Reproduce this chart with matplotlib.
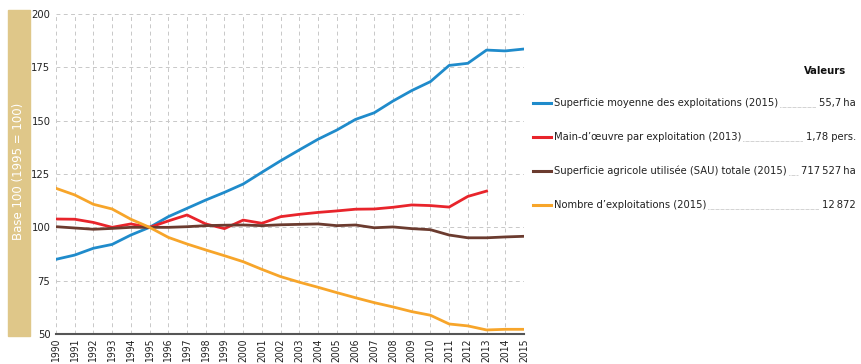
import matplotlib.pyplot as plt
import numpy as np
from matplotlib.patches import Rectangle

years = list(range(1990, 2016))

# indices, base 100 in 1995
superficie_moyenne = [85.0, 87.0, 90.2, 92.0, 96.4, 100.0, 105.0, 108.9, 112.8, 116.4,
                      120.3, 125.8, 131.2, 136.3, 141.3, 145.6, 150.6, 153.7, 159.2, 164.1,
                      168.3, 175.9, 176.9, 183.1, 182.7, 183.6]
main_oeuvre = [103.9, 103.8, 102.3, 100.0, 101.6, 100.0, 103.0, 105.8, 101.6, 99.4,
               103.4, 101.9, 105.0, 106.1, 107.0, 107.7, 108.5, 108.6, 109.4, 110.5,
               110.2, 109.5, 114.5, 117.0]
sau_totale = [100.3, 99.7, 99.1, 99.5, 100.0, 100.0, 100.0, 100.3, 100.8, 101.0,
              101.1, 100.8, 101.2, 101.4, 101.6, 100.8, 101.1, 99.8, 100.2, 99.4,
              98.9, 96.4, 95.1, 95.1, 95.5, 95.8]
nb_exploitations = [118.3, 115.2, 110.8, 108.6, 103.8, 100.0, 95.3, 92.2, 89.4, 86.7,
                    83.9, 80.3, 76.9, 74.3, 71.9, 69.4, 67.0, 64.7, 62.7, 60.5,
                    58.8, 54.7, 53.8, 51.9, 52.2, 52.2]

labels = ["Superficie moyenne des exploitations (2015)",
          "Main-d\u2019\u0153uvre par exploitation (2013)",
          "Superficie agricole utilis\u00e9e (SAU) totale (2015)",
          "Nombre d\u2019exploitations (2015)"]
valeurs = ["55,7\u2009ha", "1,78 pers.", "717\u2009527\u2009ha", "12\u2009872"]
colors = ["#1f8bcb", "#e8242b", "#6b3b2f", "#f7a52a"]
series = [superficie_moyenne, main_oeuvre, sau_totale, nb_exploitations]

plt.rcParams['font.family'] = ['DejaVu Sans']
plt.rcParams['font.stretch'] = 'condensed'

fig = plt.figure(figsize=(8.61, 3.64), dpi=100)
ax = fig.add_axes([0.065, 0.0824, 0.5436, 0.8791])

for vals, c in zip(series, colors):
    ax.plot(years[:len(vals)], vals, color=c, lw=2.0, solid_joinstyle='round', zorder=3)

ax.set_xlim(1990, 2015)
ax.set_ylim(50, 200)
ax.set_yticks([50, 75, 100, 125, 150, 175, 200])
ax.set_xticks(years)
ax.set_xticklabels([str(y) for y in years], rotation=90, fontsize=7.5, color='#222222')
ax.tick_params(axis='y', labelsize=8, colors='#222222', length=0, pad=4)
ax.tick_params(axis='x', length=0, pad=3)
ax.grid(True, color='#c8c8c8', linestyle=(0, (4, 3.5)), linewidth=0.7)
for s in ['top', 'right', 'left']:
    ax.spines[s].set_visible(False)
ax.spines['bottom'].set_color('#555555')
ax.spines['bottom'].set_linewidth(1.5)
ax.spines['bottom'].set_zorder(4)

# tan side band with y label
fig.patches.append(Rectangle((8 / 861, 1 - 336 / 364), 22 / 861, 326 / 364,
                             transform=fig.transFigure, color='#dfc789', zorder=0))
fig.text(19 / 861, 1 - 171 / 364, "Base 100 (1995 = 100)", rotation=90, color='white',
         ha='center', va='center', fontsize=8.5, fontstretch='normal')

# legend with values and dotted leaders
fig.text(846 / 861, 1 - 71 / 364, "Valeurs", ha='right', va='center', fontsize=8,
         fontweight='bold', color='#111111')
renderer = fig.canvas.get_renderer()
x_line0, x_line1, x_text, x_val = 533, 551, 554, 856
for i, (lab, val, c) in enumerate(zip(labels, valeurs, colors)):
    yp = 1 - (103 + 34 * i) / 364
    fig.add_artist(plt.Line2D([x_line0 / 861, x_line1 / 861], [yp, yp], color=c, lw=2.2,
                              transform=fig.transFigure))
    t1 = fig.text(x_text / 861, yp, lab, ha='left', va='center', fontsize=8,
                  color='#222222')
    t2 = fig.text(x_val / 861, yp, val, ha='right', va='center', fontsize=8,
                  color='#222222')
    e1 = t1.get_window_extent(renderer)
    e2 = t2.get_window_extent(renderer)
    x0 = (e1.x1 + 2) / fig.bbox.width
    x1 = (e2.x0 - 3) / fig.bbox.width
    yd = yp - 3.5 / 364
    fig.add_artist(plt.Line2D([x0, x1], [yd, yd], color='#999999', lw=0.6,
                              linestyle=(0, (0.6, 0.9)), transform=fig.transFigure))

fig.savefig('out.png', dpi=100)
